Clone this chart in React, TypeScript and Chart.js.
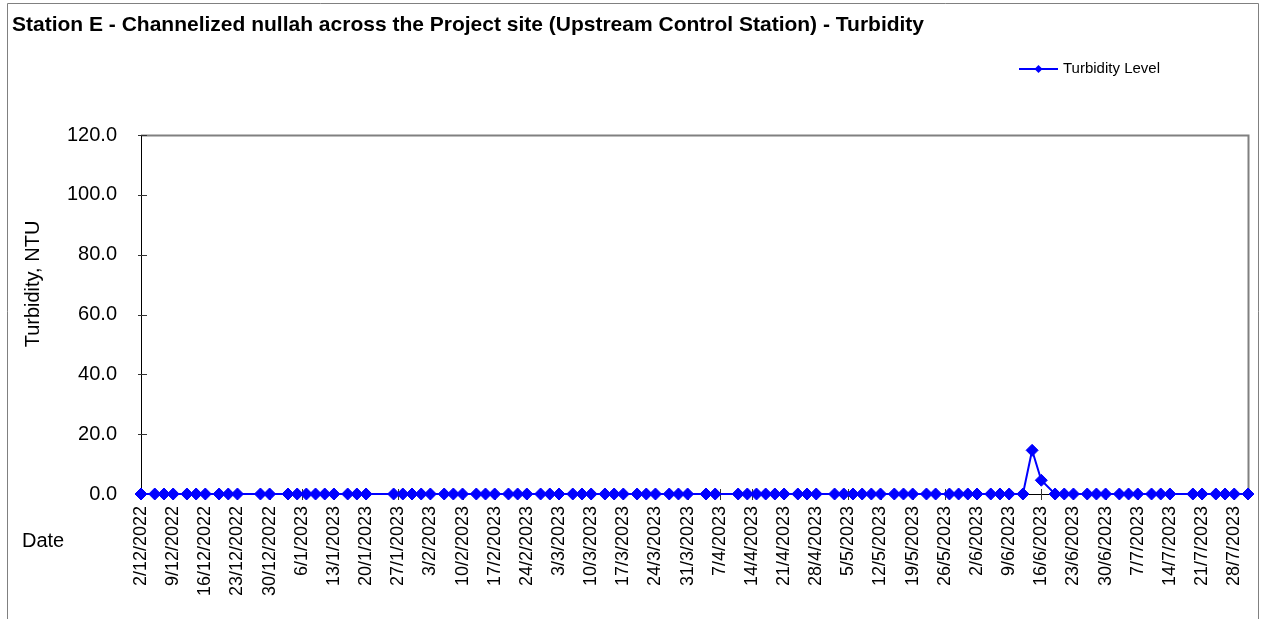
import { useEffect, useRef } from 'react';
import { Chart, registerables } from 'chart.js';

Chart.register(...registerables);

const chartTitle = 'Station E - Channelized nullah across the Project site (Upstream Control Station) - Turbidity';
const seriesName = 'Turbidity Level';
const yAxisTitle = 'Turbidity, NTU';
const xAxisTitle = 'Date';

const sampleDates = [
  '2/12/2022', '5/12/2022', '7/12/2022', '9/12/2022', '12/12/2022', '14/12/2022', '16/12/2022',
  '19/12/2022', '21/12/2022', '23/12/2022', '28/12/2022', '30/12/2022',
  '3/1/2023', '5/1/2023', '7/1/2023', '9/1/2023', '11/1/2023', '13/1/2023', '16/1/2023', '18/1/2023',
  '20/1/2023', '26/1/2023', '28/1/2023', '30/1/2023',
  '1/2/2023', '3/2/2023', '6/2/2023', '8/2/2023', '10/2/2023', '13/2/2023', '15/2/2023', '17/2/2023',
  '20/2/2023', '22/2/2023', '24/2/2023', '27/2/2023',
  '1/3/2023', '3/3/2023', '6/3/2023', '8/3/2023', '10/3/2023', '13/3/2023', '15/3/2023', '17/3/2023',
  '20/3/2023', '22/3/2023', '24/3/2023', '27/3/2023', '29/3/2023', '31/3/2023',
  '4/4/2023', '6/4/2023', '11/4/2023', '13/4/2023', '15/4/2023', '17/4/2023', '19/4/2023', '21/4/2023',
  '24/4/2023', '26/4/2023', '28/4/2023',
  '2/5/2023', '4/5/2023', '6/5/2023', '8/5/2023', '10/5/2023', '12/5/2023', '15/5/2023', '17/5/2023',
  '19/5/2023', '22/5/2023', '24/5/2023', '27/5/2023', '29/5/2023', '31/5/2023',
  '2/6/2023', '5/6/2023', '7/6/2023', '9/6/2023', '12/6/2023', '14/6/2023', '16/6/2023', '19/6/2023',
  '21/6/2023', '23/6/2023', '26/6/2023', '28/6/2023', '30/6/2023',
  '3/7/2023', '5/7/2023', '7/7/2023', '10/7/2023', '12/7/2023', '14/7/2023', '19/7/2023', '21/7/2023',
  '24/7/2023', '26/7/2023', '28/7/2023', '31/7/2023',
];

const turbidityValues = [
  0, 0, 0, 0, 0, 0, 0,
  0, 0, 0, 0, 0,
  0, 0, 0, 0, 0, 0, 0, 0,
  0, 0, 0, 0,
  0, 0, 0, 0, 0, 0, 0, 0,
  0, 0, 0, 0,
  0, 0, 0, 0, 0, 0, 0, 0,
  0, 0, 0, 0, 0, 0,
  0, 0, 0, 0, 0, 0, 0, 0,
  0, 0, 0,
  0, 0, 0, 0, 0, 0, 0, 0,
  0, 0, 0, 0, 0, 0,
  0, 0, 0, 0, 0, 14.6, 4.6, 0,
  0, 0, 0, 0, 0,
  0, 0, 0, 0, 0, 0, 0, 0,
  0, 0, 0, 0,
];

const xTickLabels = [
  '2/12/2022', '9/12/2022', '16/12/2022', '23/12/2022', '30/12/2022', '6/1/2023', '13/1/2023',
  '20/1/2023', '27/1/2023', '3/2/2023', '10/2/2023', '17/2/2023', '24/2/2023', '3/3/2023',
  '10/3/2023', '17/3/2023', '24/3/2023', '31/3/2023', '7/4/2023', '14/4/2023', '21/4/2023',
  '28/4/2023', '5/5/2023', '12/5/2023', '19/5/2023', '26/5/2023', '2/6/2023', '9/6/2023',
  '16/6/2023', '23/6/2023', '30/6/2023', '7/7/2023', '14/7/2023', '21/7/2023', '28/7/2023',
];

const yTickValues = [0, 20, 40, 60, 80, 100, 120];

const FONT = '"Liberation Sans", Arial, sans-serif';

function dayNumber(s: string): number {
  const [d, m, y] = s.split('/').map(Number);
  return Date.UTC(y, m - 1, d) / 86400000;
}

const origin = dayNumber(sampleDates[0]);
const toDay = (s: string) => dayNumber(s) - origin;
const points = sampleDates.map((s, i) => ({ x: toDay(s), y: turbidityValues[i] }));
const tickDays = xTickLabels.map(toDay);
const labelByDay = new Map<number, string>(tickDays.map((d, i) => [d, xTickLabels[i]]));
const xMax = toDay(sampleDates[sampleDates.length - 1]);

const decorPlugin = {
  id: 'decor',
  beforeDatasetsDraw(chart: any) {
    const { ctx, chartArea: a, scales } = chart;
    ctx.save();
    ctx.strokeStyle = '#808080';
    ctx.lineWidth = 2;
    ctx.beginPath();
    ctx.moveTo(a.left, a.top + 0.5);
    ctx.lineTo(a.right + 0.5, a.top + 0.5);
    ctx.lineTo(a.right + 0.5, a.bottom);
    ctx.stroke();
    ctx.strokeStyle = '#000000';
    ctx.lineWidth = 1;
    ctx.beginPath();
    ctx.moveTo(a.left + 0.5, a.top);
    ctx.lineTo(a.left + 0.5, a.bottom + 0.5);
    ctx.lineTo(a.right, a.bottom + 0.5);
    ctx.stroke();
    ctx.strokeStyle = '#333333';
    ctx.beginPath();
    for (const t of scales.y.ticks) {
      const py = Math.round(scales.y.getPixelForValue(t.value)) + 0.5;
      ctx.moveTo(a.left - 3, py);
      ctx.lineTo(a.left + 6, py);
    }
    for (const t of scales.x.ticks) {
      const px = Math.round(scales.x.getPixelForValue(t.value)) + 0.5;
      ctx.moveTo(px, a.bottom - 5);
      ctx.lineTo(px, a.bottom + 6);
    }
    ctx.stroke();
    ctx.restore();
  },
  afterDraw(chart: any) {
    const { ctx } = chart;
    ctx.save();
    ctx.strokeStyle = '#808080';
    ctx.lineWidth = 1;
    ctx.beginPath();
    ctx.moveTo(7.5, 700);
    ctx.lineTo(7.5, 3.5);
    ctx.lineTo(1258.5, 3.5);
    ctx.lineTo(1258.5, 700);
    ctx.stroke();
    ctx.fillStyle = '#000000';
    ctx.font = `bold 21px ${FONT}`;
    ctx.textAlign = 'left';
    ctx.textBaseline = 'alphabetic';
    ctx.fillText(chartTitle, 12, 31);
    const ly = 69;
    ctx.strokeStyle = '#0000FF';
    ctx.lineWidth = 2;
    ctx.beginPath();
    ctx.moveTo(1019, ly);
    ctx.lineTo(1058, ly);
    ctx.stroke();
    ctx.fillStyle = '#0000FF';
    ctx.beginPath();
    ctx.moveTo(1038.5, ly - 4);
    ctx.lineTo(1042.5, ly);
    ctx.lineTo(1038.5, ly + 4);
    ctx.lineTo(1034.5, ly);
    ctx.closePath();
    ctx.fill();
    ctx.fillStyle = '#000000';
    ctx.font = `15px ${FONT}`;
    ctx.textBaseline = 'middle';
    ctx.fillText(seriesName, 1063, ly);
    ctx.font = `20px ${FONT}`;
    ctx.save();
    ctx.translate(33, 284);
    ctx.rotate(-Math.PI / 2);
    ctx.textAlign = 'center';
    ctx.textBaseline = 'middle';
    ctx.fillText(yAxisTitle, 0, 0);
    ctx.restore();
    ctx.textAlign = 'left';
    ctx.textBaseline = 'middle';
    ctx.fillText(xAxisTitle, 22, 541);
    ctx.restore();
  },
};

export default function App() {
  const canvasRef = useRef<HTMLCanvasElement | null>(null);

  useEffect(() => {
    document.body.style.overflow = 'hidden';
    const canvas = canvasRef.current!;
    const chart = new Chart(canvas, {
      type: 'line',
      data: {
        datasets: [
          {
            label: seriesName,
            data: points,
            borderColor: '#0000FF',
            backgroundColor: '#0000FF',
            borderWidth: 2,
            pointStyle: 'rectRot',
            pointRadius: 6,
            pointBorderWidth: 1,
            pointBackgroundColor: '#0000FF',
            pointBorderColor: '#0000FF',
            tension: 0,
            clip: false as any,
          },
        ],
      },
      options: {
        animation: false,
        responsive: false,
        devicePixelRatio: 1,
        layout: { padding: { top: 135, right: 13, left: 0, bottom: 0 } },
        plugins: {
          legend: { display: false },
          title: { display: false },
          tooltip: { enabled: false },
        },
        scales: {
          x: {
            type: 'linear',
            min: 0,
            max: xMax,
            grid: { display: false, drawTicks: false },
            border: { display: false },
            afterBuildTicks: (scale: any) => {
              scale.ticks = tickDays.map((v) => ({ value: v }));
            },
            afterFit: (scale: any) => {
              scale.height = 125;
              scale.paddingLeft = 0;
              scale.paddingRight = 0;
            },
            ticks: {
              autoSkip: false,
              minRotation: 90,
              maxRotation: 90,
              padding: 12,
              color: '#000000',
              font: { family: FONT, size: 18 },
              callback: (v: any) => labelByDay.get(Number(v)) ?? '',
            },
          },
          y: {
            type: 'linear',
            min: 0,
            max: 120,
            grid: { display: false, drawTicks: false },
            border: { display: false },
            afterBuildTicks: (scale: any) => {
              scale.ticks = yTickValues.map((v) => ({ value: v }));
            },
            afterFit: (scale: any) => {
              scale.width = 141;
              scale.paddingTop = 0;
              scale.paddingBottom = 0;
            },
            ticks: {
              padding: 24,
              color: '#000000',
              font: { family: FONT, size: 20 },
              callback: (v: any) => Number(v).toFixed(1),
            },
          },
        },
      },
      plugins: [decorPlugin],
    });
    return () => chart.destroy();
  }, []);

  return (
    <canvas
      ref={canvasRef}
      width={1261}
      height={619}
      style={{ position: 'fixed', left: 0, top: 0, width: '1261px', height: '619px', display: 'block' }}
    />
  );
}
